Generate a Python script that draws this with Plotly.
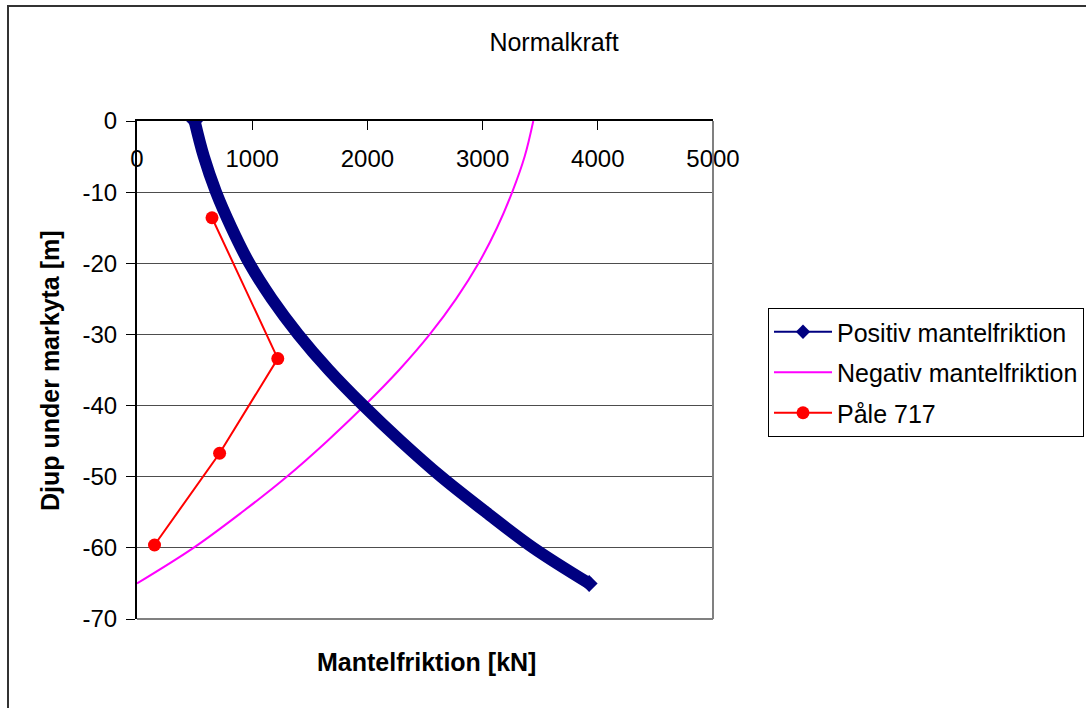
import plotly.graph_objects as go

# Depth below ground surface [m]
depth = [0, -5, -10, -15, -20, -25, -30, -35, -40, -45, -50, -55, -60, -65]

# Positive skin friction (cumulative) [kN]
positiv = [500, 580, 686, 820, 975, 1170, 1400, 1665, 1965, 2290, 2640, 3030, 3440, 3925]

# Negative skin friction [kN]
negativ = [3440, 3365, 3257, 3125, 2965, 2770, 2541, 2275, 1975, 1650, 1300, 910, 490, 0]

# Measured normal force, pile 717
pale_kraft = [651, 1222, 717, 152]
pale_djup = [-13.6, -33.4, -46.7, -59.6]

x_ticks = [0, 1000, 2000, 3000, 4000, 5000]
x_tick_labels = ["0", "1000", "2000", "3000", "4000", "5000"]
y_ticks = [0, -10, -20, -30, -40, -50, -60, -70]
y_tick_labels = ["0", "-10", "-20", "-30", "-40", "-50", "-60", "-70"]

FONT = "Liberation Sans, Arial, sans-serif"
NAVY = "#000080"
MAGENTA = "#FF00FF"
RED = "#FF0000"

fig = go.Figure()

# Negative skin friction curve
fig.add_trace(go.Scatter(
    x=negativ, y=depth, mode="lines", line=dict(color=MAGENTA, width=2, shape="spline"),
    name="Negativ mantelfriktion", legendgroup="g2", legendrank=2,
))

# Positive skin friction, drawn as a thick band
fig.add_trace(go.Scatter(
    x=positiv, y=depth, mode="lines",
    line=dict(color=NAVY, width=12, shape="spline"),
    name="Positiv mantelfriktion", legendgroup="g1", showlegend=False,
))
# diamond tips at both ends of the band
fig.add_trace(go.Scatter(
    x=[positiv[0], positiv[-1]], y=[depth[0], depth[-1]], mode="markers",
    marker=dict(symbol="diamond", size=13, color=NAVY, line=dict(width=0)),
    legendgroup="g1", showlegend=False, hoverinfo="skip",
))
# legend entry for the positive curve (thin line + diamond)
fig.add_trace(go.Scatter(
    x=[None], y=[None], mode="lines+markers",
    line=dict(color=NAVY, width=2),
    marker=dict(symbol="diamond", size=11, color=NAVY, line=dict(width=0)),
    name="Positiv mantelfriktion", legendgroup="g1", legendrank=1,
))

# Pile 717
fig.add_trace(go.Scatter(
    x=pale_kraft, y=pale_djup, mode="lines+markers",
    line=dict(color=RED, width=2),
    marker=dict(symbol="circle", size=13, color=RED, line=dict(width=0)),
    name="Påle 717", legendgroup="g3", legendrank=3,
))

L, R, T, B = 137, 373, 121, 89
W, H = 1086, 708
pw, ph = W - L - R, H - T - B

def px_x(px):
    return (px - L) / pw

def px_y(py):
    return (H - B - py) / ph

fig.update_layout(
    width=W, height=H,
    margin=dict(l=L, r=R, t=T, b=B, autoexpand=False),
    paper_bgcolor="white", plot_bgcolor="white",
    font=dict(family=FONT, size=24, color="black"),
    title=dict(text="Normalkraft", x=554 / W, xref="container", xanchor="center",
               y=1 - 42 / H, yref="container", yanchor="middle",
               font=dict(family=FONT, size=25, color="black")),
    showlegend=True,
    legend=dict(
        x=px_x(768), y=px_y(308), xanchor="left", yanchor="top",
        bordercolor="black", borderwidth=1, bgcolor="white",
        font=dict(family=FONT, size=25, color="black"),
        tracegroupgap=5, traceorder="grouped", itemwidth=58,
    ),
    xaxis=dict(
        range=[0, 5000], side="top", tickvals=x_ticks, ticktext=x_tick_labels,
        ticks="inside", ticklen=9, tickcolor="black", tickwidth=1,
        ticklabelposition="inside", ticklabeloverflow="allow", ticklabelstandoff=22,
        showline=True, linecolor="black", linewidth=2,
        showgrid=False, zeroline=False, fixedrange=True,
        tickfont=dict(family=FONT, size=24, color="black"),
    ),
    yaxis=dict(
        range=[-70, 0], tickvals=y_ticks, ticktext=y_tick_labels,
        ticks="outside", ticklen=9, tickcolor="black", tickwidth=1,
        ticklabelstandoff=4,
        showline=True, linecolor="black", linewidth=2,
        showgrid=True, gridcolor="#4d4d4d", gridwidth=1,
        zeroline=False, fixedrange=True,
        tickfont=dict(family=FONT, size=24, color="black"),
    ),
)

# Plot-area border (right and bottom) and outer chart frame
fig.add_shape(type="line", xref="paper", yref="paper", x0=1, x1=1, y0=0, y1=1,
              line=dict(color="#808080", width=2))
fig.add_shape(type="line", xref="paper", yref="paper", x0=0, x1=1, y0=0, y1=0,
              line=dict(color="#808080", width=2))
fig.add_shape(type="rect", xref="paper", yref="paper",
              x0=px_x(8), x1=px_x(1200), y0=px_y(6), y1=px_y(800),
              line=dict(color="#333333", width=2), fillcolor="rgba(0,0,0,0)", layer="below")

# Axis titles
fig.add_annotation(text="<b>Mantelfriktion [kN]</b>", xref="paper", yref="paper",
                   x=px_x(426), y=px_y(662), showarrow=False,
                   xanchor="center", yanchor="middle",
                   font=dict(family=FONT, size=25, color="black"))
fig.add_annotation(text="<b>Djup under markyta [m]</b>", xref="paper", yref="paper",
                   x=px_x(50), y=px_y(371), showarrow=False, textangle=-90,
                   xanchor="center", yanchor="middle",
                   font=dict(family=FONT, size=25, color="black"))

fig.write_html("out.html")
